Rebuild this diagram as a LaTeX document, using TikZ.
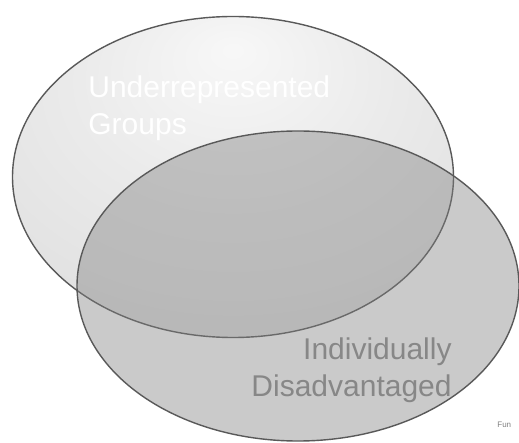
\documentclass[tikz,border=0pt]{standalone}
\usepackage{fontspec}
\setmainfont{Liberation Sans}
\usetikzlibrary{shapes.geometric}

\pgfdeclareradialshading{underglow}{\pgfpoint{0bp}{20bp}}{%
  color(0bp)=(white!97!black); color(18bp)=(white!92!black);
  color(45bp)=(white!86!black); color(70bp)=(white!83!black)}

\begin{document}
\begin{tikzpicture}[x=1pt, y=-1pt, thick]
        \useasboundingbox (0,0) rectangle (519,443);

        % Nodes
        \node[ellipse, draw=black!65, line width=1.4pt, shading=underglow,
              minimum width=441pt, minimum height=321pt, inner sep=0pt] (under) at (233,177) {};
        \node[ellipse, draw=black!65, line width=1.4pt, fill=gray, fill opacity=0.42,
              minimum width=442pt, minimum height=310pt, inner sep=0pt] (disadv) at (298,286) {};

        % Labels
        \node[anchor=north west, inner sep=0pt, align=left, text=white,
              font=\fontsize{30}{37}\selectfont] (underlabel) at (88,75) {Underrepresented\\Groups};
        \node[anchor=north east, inner sep=0pt, align=right, text=black!47,
              font=\fontsize{30}{37}\selectfont] (disadvlabel) at (452,337) {Individually\\Disadvantaged};

        % Footnote mark
        \node[anchor=base west, inner sep=0pt, text=black!50,
              font=\fontsize{8}{9}\selectfont] (fun) at (497,427) {Fun};

    \end{tikzpicture}
\end{document}
